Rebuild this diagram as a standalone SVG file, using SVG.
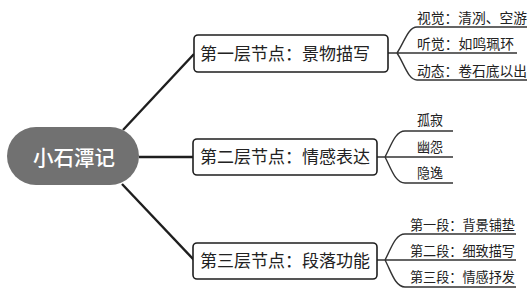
<svg xmlns="http://www.w3.org/2000/svg" width="532" height="290" viewBox="0 0 532 290">
<style>
text{font-family:"Noto Sans CJK SC","Microsoft YaHei",sans-serif;fill:#222}
.main{fill:none;stroke:#1e1e1e;stroke-width:2.4}
.br{fill:none;stroke:#333;stroke-width:1.4}
.box{fill:#fff;stroke:#1e1e1e;stroke-width:1.6}
.mid{font-size:17px}
.leaf{font-size:13.5px}
.leafb{font-size:14px}
</style>
<rect width="532" height="290" fill="#fff"/>
<g id="connectors">
<path class="main" d="M123,130 L194,54"/>
<path class="main" d="M139,157 H193"/>
<path class="main" d="M122,184 L194,260"/>
<path class="br" d="M388,53 H397 C404,43 408,27 417,27 H527 M397,53 H517 M397,53 C404,63 408,80 417,80 H527"/>
<path class="br" d="M377,157 H385 C391,146 395,131 405,131 H453 M385,157 H453 M385,157 C391,168 395,183 405,183 H453"/>
<path class="br" d="M377,260 H385 C391,249 395,234 405,234 H516 M385,260 H516 M385,260 C391,271 395,287 405,287 H516"/>
</g>
<g id="root">
<rect x="7" y="127" width="132" height="58" rx="29" fill="#717171"/>
<text x="33" y="164.5" textLength="82" lengthAdjust="spacingAndGlyphs" style="font-size:21px;fill:#fff;font-weight:500">小石潭记</text>
</g>
<g id="n1">
<rect class="box" x="194" y="35" width="194" height="37" rx="4"/>
<text class="mid" x="200" y="60" textLength="170" lengthAdjust="spacingAndGlyphs">第一层节点：景物描写</text>
</g>
<g id="n2">
<rect class="box" x="193" y="139" width="184" height="36" rx="4"/>
<text class="mid" x="200" y="163" textLength="170" lengthAdjust="spacingAndGlyphs">第二层节点：情感表达</text>
</g>
<g id="n3">
<rect class="box" x="193" y="243" width="184" height="36" rx="4"/>
<text class="mid" x="200" y="267" textLength="170" lengthAdjust="spacingAndGlyphs">第三层节点：段落功能</text>
</g>
<g id="l1a"><text class="leafb" x="417" y="23" textLength="110" lengthAdjust="spacingAndGlyphs">视觉：清冽、空游</text></g>
<g id="l1b"><text class="leafb" x="417" y="49" textLength="97" lengthAdjust="spacingAndGlyphs">听觉：如鸣珮环</text></g>
<g id="l1c"><text class="leafb" x="417" y="76" textLength="110" lengthAdjust="spacingAndGlyphs">动态：卷石底以出</text></g>
<g id="l2a"><text class="leaf" x="417" y="125" textLength="26" lengthAdjust="spacingAndGlyphs">孤寂</text></g>
<g id="l2b"><text class="leaf" x="417" y="152" textLength="26" lengthAdjust="spacingAndGlyphs">幽怨</text></g>
<g id="l2c"><text class="leaf" x="417" y="178" textLength="26" lengthAdjust="spacingAndGlyphs">隐逸</text></g>
<g id="l3a"><text class="leaf" x="410" y="230" textLength="105" lengthAdjust="spacingAndGlyphs">第一段：背景铺垫</text></g>
<g id="l3b"><text class="leaf" x="410" y="256" textLength="105" lengthAdjust="spacingAndGlyphs">第二段：细致描写</text></g>
<g id="l3c"><text class="leaf" x="410" y="282" textLength="105" lengthAdjust="spacingAndGlyphs">第三段：情感抒发</text></g>
</svg>
